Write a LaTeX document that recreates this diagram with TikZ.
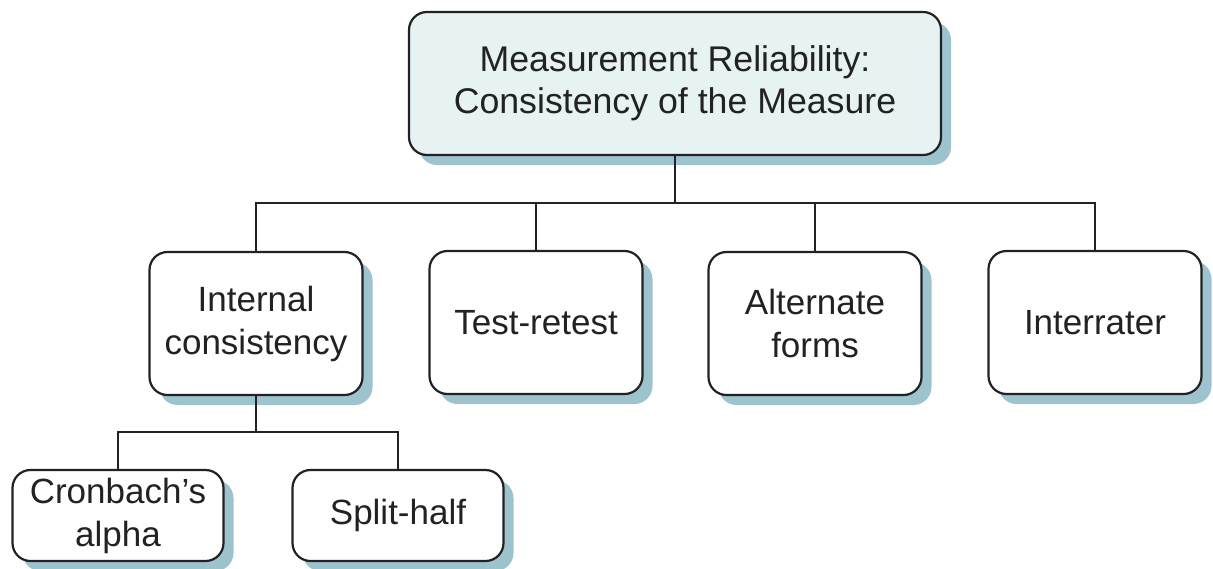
\documentclass[tikz,border=0pt]{standalone}
\usepackage{fontspec}
\setmainfont{Liberation Sans}
\usetikzlibrary{shadows}
\definecolor{shadowc}{HTML}{9DC3CF}
\definecolor{topfill}{HTML}{E7F2F2}
\definecolor{linec}{HTML}{222222}
\begin{document}
\begin{tikzpicture}[x=1pt,y=-1pt,
  box/.style={draw=linec, line width=2.2pt, rounded corners=18pt, fill=white,
    minimum width=213pt, minimum height=143pt, align=center, inner sep=0pt,
    text=linec, font=\fontsize{35}{43}\selectfont,
    drop shadow={shadow xshift=10pt, shadow yshift=-10pt, fill=shadowc, opacity=1}},
  subbox/.style={box, minimum width=211pt, minimum height=91pt},
  conn/.style={draw=linec, line width=2.6pt}]
\useasboundingbox (0,0) rectangle (1213,568);
\clip (0,0) rectangle (1213,568);
\node[box, fill=topfill, minimum width=532pt, minimum height=143pt, font=\fontsize{35.7}{42}\selectfont] (top) at (675,83.5) {Measurement Reliability:\\Consistency of the Measure};
\node[box] (ic) at (256,323.5) {Internal\\consistency};
\node[box] (tr) at (536,322.5) {Test-retest};
\node[box] (af) at (815,323.5) {Alternate\\forms};
\node[box] (ir) at (1095,322.5) {Interrater};
\node[subbox] (ca) at (118,515.5) {Cronbach’s\\alpha};
\node[subbox] (sh) at (398,515.5) {Split-half};
\coordinate (bus) at (0,203);
\coordinate (subbus) at (0,432);
\draw[conn] (top.south) -- (top.south |- bus);
\draw[conn] (ic.north) -- (ic.north |- bus) -- (ir.north |- bus) -- (ir.north);
\draw[conn] (tr.north) -- (tr.north |- bus);
\draw[conn] (af.north) -- (af.north |- bus);
\draw[conn] (ic.south) -- (ic.south |- subbus);
\draw[conn] (ca.north) -- (ca.north |- subbus) -- (sh.north |- subbus) -- (sh.north);
\end{tikzpicture}
\end{document}
